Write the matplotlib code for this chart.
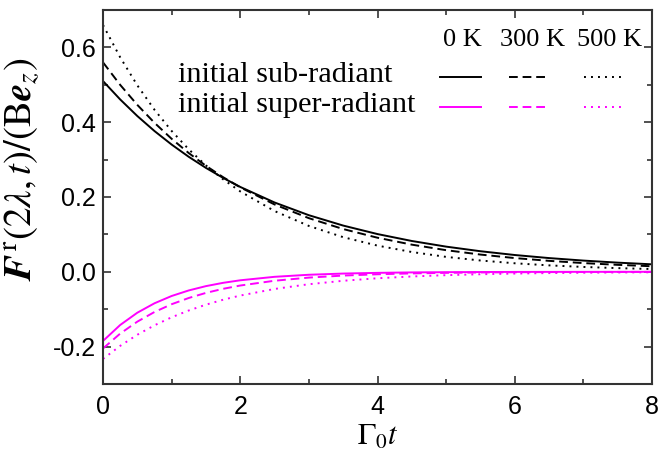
import matplotlib
matplotlib.use("Agg")
import matplotlib.pyplot as plt
from matplotlib.lines import Line2D

plt.rcParams['mathtext.fontset'] = 'stix'
plt.rcParams['font.family'] = ['Liberation Sans', 'DejaVu Sans']

# time axis (Gamma_0 t)
t = [0, 0.25, 0.5, 0.75, 1, 1.25, 1.5, 1.75, 2, 2.5, 3, 3.5, 4, 4.5, 5, 5.5, 6, 6.5, 7, 7.5, 8]

# initial sub-radiant
sub_0K = [0.510, 0.4609, 0.4165, 0.3764, 0.3402, 0.3074, 0.2778, 0.2511, 0.2269, 0.1853, 0.1513,
          0.1236, 0.1009, 0.0824, 0.0673, 0.0550, 0.0449, 0.0367, 0.0300, 0.0245, 0.0200]
sub_300K = [0.560, 0.4999, 0.4463, 0.3984, 0.3556, 0.3174, 0.2834, 0.2530, 0.2258, 0.1800, 0.1434,
            0.1143, 0.0911, 0.0726, 0.0578, 0.0461, 0.0367, 0.0293, 0.0233, 0.0186, 0.0148]
sub_500K = [0.660, 0.5736, 0.4986, 0.4333, 0.3766, 0.3273, 0.2845, 0.2473, 0.2149, 0.1624, 0.1226,
            0.0926, 0.0700, 0.0529, 0.0399, 0.0302, 0.0228, 0.0172, 0.0130, 0.0098, 0.0074]

# initial super-radiant
sup_0K = [-0.1850, -0.1423, -0.1094, -0.0842, -0.0647, -0.0498, -0.0383, -0.0295, -0.0227, -0.0134,
          -0.0079, -0.0047, -0.0028, -0.0016, -0.0010, -0.0006, -0.0003, -0.0002, -0.0001, -0.0001, 0.0]
sup_300K = [-0.2050, -0.1653, -0.1333, -0.1075, -0.0867, -0.0700, -0.0564, -0.0455, -0.0367, -0.0239,
            -0.0155, -0.0101, -0.0066, -0.0043, -0.0028, -0.0018, -0.0012, -0.0008, -0.0005, -0.0003, -0.0002]
sup_500K = [-0.2330, -0.1981, -0.1683, -0.1431, -0.1216, -0.1034, -0.0879, -0.0747, -0.0635, -0.0459,
            -0.0332, -0.0240, -0.0173, -0.0125, -0.0090, -0.0065, -0.0047, -0.0034, -0.0025, -0.0018, -0.0013]

temps = ['0 K', '300 K', '500 K']
row_labels = ['initial sub-radiant', 'initial super-radiant']
xticks = [0, 2, 4, 6, 8]
yticks = [-0.2, 0.0, 0.2, 0.4, 0.6]
ytick_labels = ['-0.2', '0.0', '0.2', '0.4', '0.6']

MAG = '#FF00FF'
styles = ['-', (0, (4.5, 2.5)), (0, (1, 2.6))]
LW = 1.4

fig = plt.figure(figsize=(6.59, 4.55), dpi=100)
ax = fig.add_axes([103/659, 1-384/455, 549/659, 374/455])

for y, ls in zip([sub_0K, sub_300K, sub_500K], styles):
    ax.plot(t, y, color='black', ls=ls, lw=LW)
for y, ls in zip([sup_0K, sup_300K, sup_500K], styles):
    ax.plot(t, y, color=MAG, ls=ls, lw=LW)

ax.set_xlim(0, 8)
ax.set_ylim(-0.3, 0.7)
ax.set_xticks(xticks)
ax.set_xticks([1, 3, 5, 7], minor=True)
ax.set_yticks(yticks)
ax.set_yticklabels(ytick_labels)
ax.set_yticks([-0.3, -0.1, 0.1, 0.3, 0.5, 0.7], minor=True)
ax.tick_params(which='both', direction='in', top=True, right=True, color='#333333',
               labelsize=18, width=1.2)
ax.tick_params(which='major', length=6)
ax.tick_params(axis='x', which='major', pad=8)
ax.tick_params(axis='y', which='major', pad=5)
ax.tick_params(which='minor', length=3.5)
for s in ax.spines.values():
    s.set_linewidth(1.5)
    s.set_color('#333333')

ax.set_xlabel(r'$\Gamma_0 t$', fontsize=22, labelpad=2)
ax.set_ylabel(r'$\mathbfit{F}^{\,\mathrm{r}}(2\lambda,t)/(\mathrm{B}\mathbfit{e}_z)$', fontsize=28)
ax.yaxis.set_label_coords(-0.112, 0.575)

# custom legend
serif = ['Liberation Serif', 'DejaVu Serif']
hx = [0.654, 0.783, 0.9235]
for x, s in zip(hx, temps):
    ax.text(x, 0.904, s, transform=ax.transAxes, ha='center', va='baseline',
            fontsize=19, family=serif)
for yb, lab in zip([0.8075, 0.727], row_labels):
    ax.text(0.1366, yb, lab, transform=ax.transAxes, ha='left', va='baseline',
            fontsize=21.8, family=serif)
seg = [(0.614, 0.689), (0.740, 0.809), (0.876, 0.945)]
for yl, c in zip([0.821, 0.7406], ['black', MAG]):
    for (x0, x1), ls in zip(seg, styles):
        ax.add_line(Line2D([x0, x1], [yl, yl], transform=ax.transAxes, color=c, ls=ls, lw=LW))

fig.savefig('out.png', dpi=100)
